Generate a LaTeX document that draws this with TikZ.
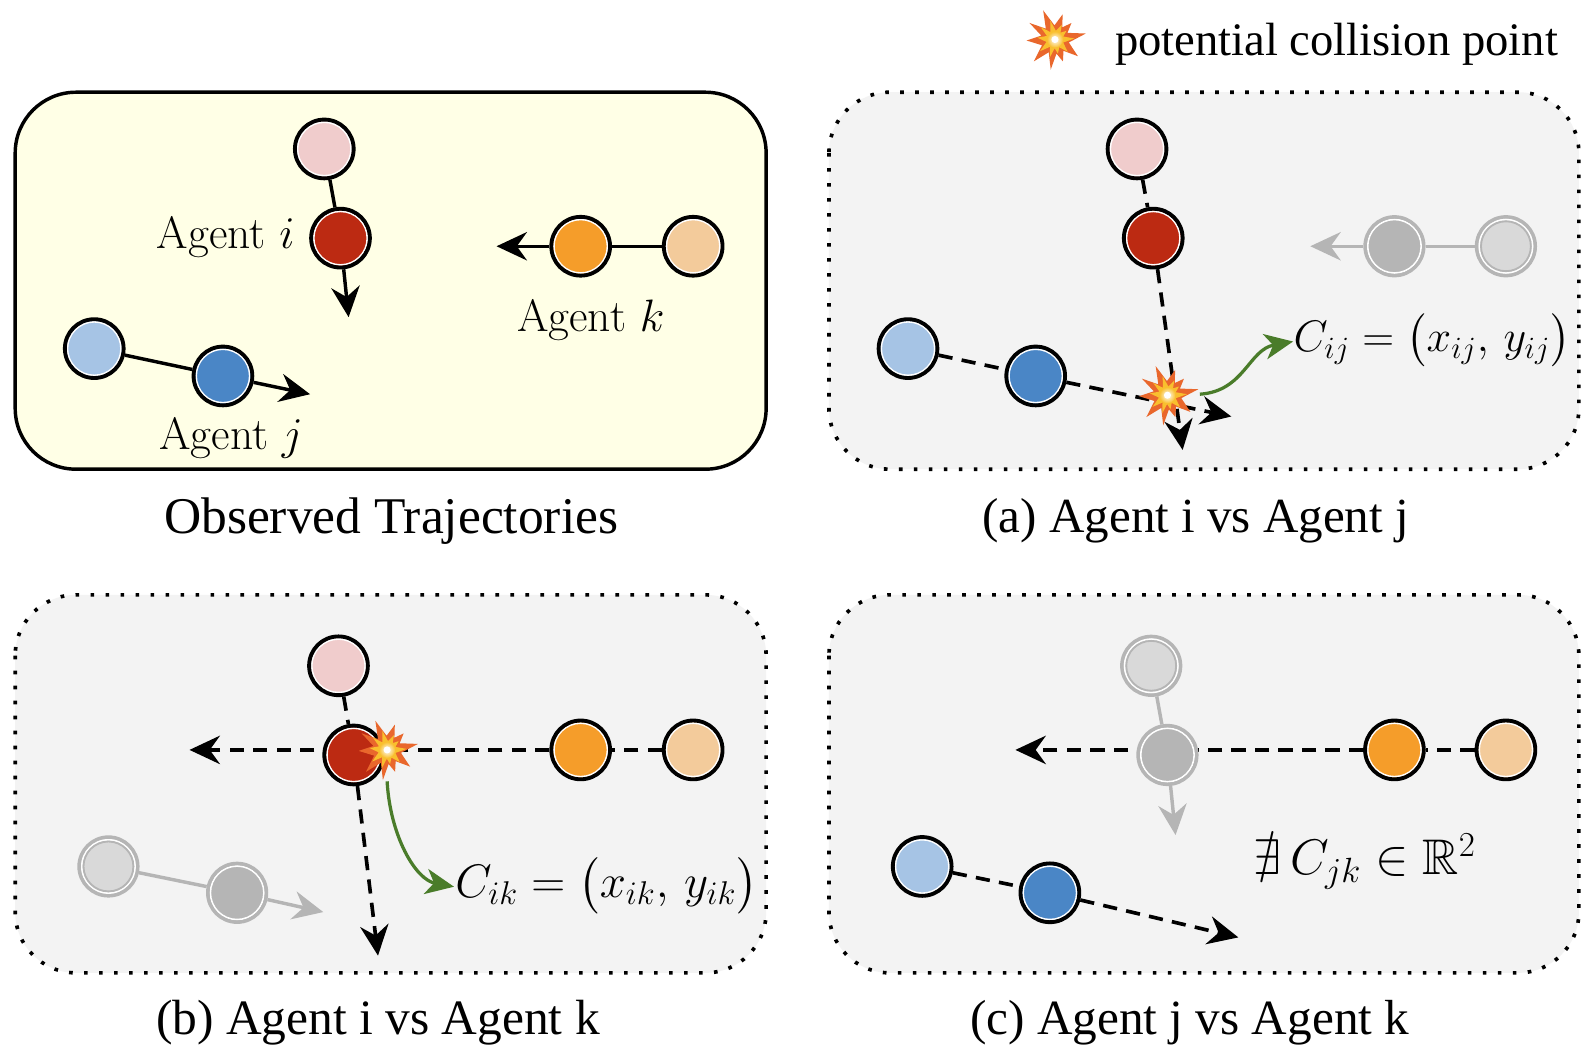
\RequirePackage{fix-cm}
\documentclass[tikz,border=0pt]{standalone}
\usepackage{amsmath}
\usepackage{amssymb}
\usepackage{fontspec}
\newfontfamily\capfont{Liberation Serif}
\usetikzlibrary{arrows.meta}
\pgfdeclarelayer{panel}
\pgfdeclarelayer{lines}
\pgfsetlayers{panel,lines,main}
\definecolor{cPink}{HTML}{F0CCCC}
\definecolor{cRed}{HTML}{BC2A12}
\definecolor{cOrange}{HTML}{F59D2A}
\definecolor{cPeach}{HTML}{F3CB9B}
\definecolor{cLtBlue}{HTML}{A6C4E5}
\definecolor{cBlue}{HTML}{4A86C6}
\definecolor{cYellow}{HTML}{FFFFE6}
\definecolor{cPanel}{HTML}{F3F3F3}
\definecolor{cFade}{HTML}{B5B5B5}
\definecolor{cFadeLt}{HTML}{D9D9D9}
\definecolor{cGreen}{HTML}{4A7C2A}
\definecolor{cBurstO}{HTML}{E9672C}
\definecolor{cBurstY}{HTML}{F9BF2E}
\def\burstpath{(112:31) -- (92:14) -- (73:26) -- (59:14) -- (45:23) -- (28:14) -- (11:31) -- (-12:14) -- (-36:28) -- (-53:14) -- (-70:23) -- (-84:14) -- (-98:30) -- (-116:14) -- (-134:30) -- (-156:14) -- (-178:28) -- (164:14) -- (147:30) -- (130:14) -- cycle}
\tikzset{
  agent/.style={circle,inner sep=0pt,minimum size=29pt,line width=1.9pt,draw=black,fill=#1,
    path picture={\draw[white,line width=0.8pt] (path picture bounding box.center) circle[radius=13.2pt];}},
  agentfade/.style={circle,inner sep=0pt,minimum size=29pt,line width=1.7pt,draw=cFade,fill=cFade,
    path picture={\draw[white,line width=0.8pt] (path picture bounding box.center) circle[radius=13.2pt];}},
  agentfadelt/.style={circle,inner sep=0pt,minimum size=29pt,line width=1.7pt,draw=cFade,fill=cFadeLt,
    path picture={\draw[white,line width=0.8pt] (path picture bounding box.center) circle[radius=13.2pt];
      \draw[cFade,line width=0.9pt] (path picture bounding box.center) circle[radius=12.3pt];}},
  solidlink/.style={line width=1.7pt,draw=black},
  dashlink/.style={line width=1.8pt,draw=black,dash pattern=on 7pt off 4.6pt},
  fadelink/.style={line width=1.7pt,draw=cFade},
  tipped/.style={-{Stealth[length=15pt,width=14pt,inset=5pt]}},
  greenlink/.style={line width=1.6pt,draw=cGreen,-{Stealth[length=14pt,width=12.5pt,inset=4pt]}},
  obsbox/.style={draw=black,line width=1.7pt,fill=cYellow,rounded corners=30pt},
  dotbox/.style={draw=black,line width=1.8pt,fill=cPanel,rounded corners=30pt,dash pattern=on 1.8pt off 5.6pt},
  captxt/.style={font=\capfont\fontsize{#1}{30}\selectfont,inner sep=0pt},
  agentlbl/.style={font=\fontsize{22.4}{27}\selectfont,inner sep=0pt},
  mathlbl/.style={font=\fontsize{#1}{28}\selectfont,inner sep=0pt},
  pics/burst/.style={code={
    \begin{scope}[yscale=-1]
    \fill[cBurstO] \burstpath;
    \begin{scope}[scale=.62,rotate=8]\fill[cBurstY] \burstpath;\end{scope}
    \shade[inner color=white,outer color=cBurstY] (0,0) circle[radius=8];
    \fill[white] (0,0) circle[radius=3.5];
    \end{scope}
  }}
}
\begin{document}
\begin{tikzpicture}[x=0.5pt,y=-0.5pt]
\useasboundingbox (0,0) rectangle (1568,1042);

% ---- panels
\begin{pgfonlayer}{panel}
\fill[white] (0,0) rectangle (1568,1042);
\path[obsbox] (15,91) rectangle (756,463);
\path[dotbox] (818,91) rectangle (1558,463);
\path[dotbox] (15,587) rectangle (756,960);
\path[dotbox] (818,587) rectangle (1558,960);
\end{pgfonlayer}

% ---- observed
\node[agent=cPink] (oiA) at (320,147) {};
\node[agent=cRed] (oiB) at (336,235) {};
\node[agent=cOrange] (okB) at (573,243) {};
\node[agent=cPeach] (okA) at (684,243) {};
\node[agent=cLtBlue] (ojA) at (93,344) {};
\node[agent=cBlue] (ojB) at (220,371) {};
\coordinate (oiT) at (344,313);
\coordinate (okT) at (490,243);
\coordinate (ojT) at (306,389);

% ---- panel a
\node[agent=cPink] (aiA) at (1122,147) {};
\node[agent=cRed] (aiB) at (1138,235) {};
\node[agentfade] (akB) at (1376,243) {};
\node[agentfadelt] (akA) at (1486,243) {};
\node[agent=cLtBlue] (ajA) at (896,344) {};
\node[agent=cBlue] (ajB) at (1022,371) {};
\coordinate (aiT) at (1167,444);
\coordinate (akT) at (1293,243);
\coordinate (ajT) at (1215,411);
\coordinate (aS) at (1184,389);
\coordinate (aE) at (1276,337);

% ---- panel b
\node[agent=cPink] (biA) at (334,657) {};
\node[agent=cRed] (biB) at (349,745) {};
\node[agent=cOrange] (bkB) at (573,740) {};
\node[agent=cPeach] (bkA) at (684,740) {};
\node[agentfadelt] (bjA) at (107,855) {};
\node[agentfade] (bjB) at (234,881) {};
\coordinate (biT) at (373,943);
\coordinate (bkT) at (187,740);
\coordinate (bjT) at (319,900);
\coordinate (bS) at (382,771);
\coordinate (bE) at (448,875);

% ---- panel c
\node[agentfadelt] (ciA) at (1136,657) {};
\node[agentfade] (ciB) at (1152,745) {};
\node[agent=cOrange] (ckB) at (1376,740) {};
\node[agent=cPeach] (ckA) at (1486,740) {};
\node[agent=cLtBlue] (cjA) at (910,855) {};
\node[agent=cBlue] (cjB) at (1036,881) {};
\coordinate (ciT) at (1160,824);
\coordinate (ckT) at (1002,740);
\coordinate (cjT) at (1222,925);

% ---- connectors
\begin{pgfonlayer}{lines}
\draw[solidlink] (oiA) -- (oiB);
\draw[solidlink,tipped] (oiB) -- (oiT);
\draw[solidlink] (okA) -- (okB);
\draw[solidlink,tipped] (okB) -- (okT);
\draw[solidlink] (ojA) -- (ojB);
\draw[solidlink,tipped] (ojB) -- (ojT);

\draw[dashlink] (aiA) -- (aiB);
\draw[dashlink,tipped] (aiB) -- (aiT);
\draw[fadelink] (akA) -- (akB);
\draw[fadelink,tipped] (akB) -- (akT);
\draw[dashlink] (ajA) -- (ajB);
\draw[dashlink,tipped] (ajB) -- (ajT);
\draw[greenlink] (aS) .. controls (1228,386) and (1232,345) .. (aE);

\draw[dashlink] (biA) -- (biB);
\draw[dashlink,tipped] (biB) -- (biT);
\draw[dashlink] (bkA) -- (bkB);
\draw[dashlink,tipped] (bkB) -- (bkT);
\draw[fadelink] (bjA) -- (bjB);
\draw[fadelink,tipped] (bjB) -- (bjT);
\draw[greenlink] (bS) .. controls (385,825) and (410,868) .. (bE);

\draw[fadelink] (ciA) -- (ciB);
\draw[fadelink,tipped] (ciB) -- (ciT);
\draw[dashlink] (ckA) -- (ckB);
\draw[dashlink,tipped] (ckB) -- (ckT);
\draw[dashlink] (cjA) -- (cjB);
\draw[dashlink,tipped] (cjB) -- (cjT);
\end{pgfonlayer}

% ---- collision markers
\pic at (1041,39) {burst};
\pic at (1152,390) {burst};
\pic at (382,740) {burst};

% ---- labels
\node[agentlbl,anchor=east] (loi) at (291,234) {Agent $i$};
\node[agentlbl] (lok) at (583,316) {Agent $k$};
\node[agentlbl] (loj) at (228,432) {Agent $j$};
\node[mathlbl=21.8,anchor=west] (lCij) at (1276,336) {$C_{ij}=\bigl(x_{ij},\,y_{ij}\bigr)$};
\node[mathlbl=23.2,anchor=west] (lCik) at (449,874) {$C_{ik}=\bigl(x_{ik},\,y_{ik}\bigr)$};
\node[mathlbl=24.7,anchor=west] (lCjk) at (1237,850) {$\nexists\,C_{jk}\in\mathbb{R}^2$};
\node[captxt=23,anchor=west] (lleg) at (1100,44) {potential collision point};
\node[captxt=25.4] (lobs) at (386,514) {Observed Trajectories};
\node[captxt=24.2] (lcapa) at (1180,514) {(a) Agent i vs Agent j};
\node[captxt=24.4] (lcapb) at (373,1009) {(b) Agent i vs Agent k};
\node[captxt=24.3] (lcapc) at (1174,1009) {(c) Agent j vs Agent k};
\end{tikzpicture}
\end{document}
